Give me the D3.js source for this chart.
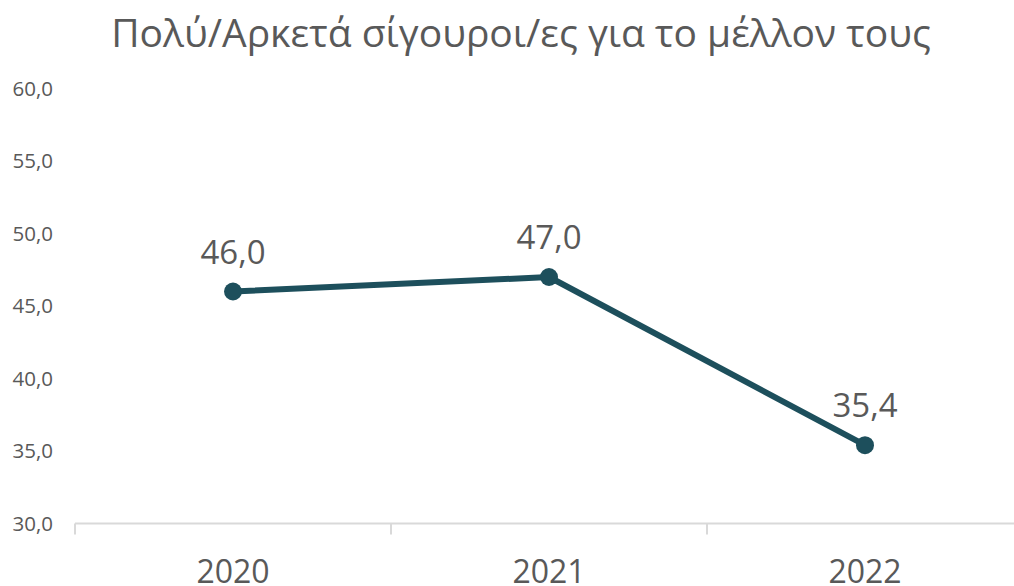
<!DOCTYPE html>
<html>
<head>
<meta charset="utf-8">
<script src="https://cdn.jsdelivr.net/npm/d3@7/dist/d3.min.js"></script>
<style>
    body { margin: 0; background: #fff; }
    svg { display: block; font-family: "Open Sans", sans-serif; }
</style>
</head>
<body>
<svg id="CANVAS"></svg>
<script>
    var TITLE = "Πολύ/Αρκετά σίγουροι/ες για το μέλλον τους";
    var YEARS = ["2020", "2021", "2022"];
    var VALUES = [46.0, 47.0, 35.4];
    var Y_TICKS = [30, 35, 40, 45, 50, 55, 60];

    var W = 1014, H = 586;
    var LINE_COLOR = "#1d4f5c";
    var TEXT_COLOR = "#595959";

    var svg = d3.select("#CANVAS").attr("width", W).attr("height", H);

    var x = d3.scaleBand()
        .domain(YEARS)
        .range([75, 1023]);

    var y = d3.scaleLinear()
        .domain([30, 60])
        .range([523.5, 88.5]);

    var fmt = function (v) { return d3.format(".1f")(v).replace(".", ","); };

    // title
    svg.append("text")
        .attr("x", 521).attr("y", 47)
        .attr("text-anchor", "middle")
        .attr("fill", TEXT_COLOR)
        .style("font-size", "39px")
        .text(TITLE);

    // y labels (no axis line)
    svg.selectAll("text.YLAB")
        .data(Y_TICKS)
        .enter().append("text")
        .attr("class", "YLAB")
        .attr("x", 53)
        .attr("y", function (d) { return y(d); })
        .attr("dy", "0.35em")
        .attr("text-anchor", "end")
        .attr("fill", TEXT_COLOR)
        .style("font-size", "20.5px")
        .text(fmt);

    // x axis
    var xAxis = svg.append("g")
        .attr("transform", "translate(0," + y(30) + ")");
    xAxis.append("line")
        .attr("x1", x.range()[0]).attr("x2", x.range()[1])
        .attr("stroke", "#d9d9d9").attr("stroke-width", 2);
    xAxis.selectAll("line.TICK")
        .data(YEARS)
        .enter().append("line")
        .attr("class", "TICK")
        .attr("x1", function (d) { return x(d); })
        .attr("x2", function (d) { return x(d); })
        .attr("y1", 0).attr("y2", 11)
        .attr("stroke", "#d9d9d9").attr("stroke-width", 2);
    xAxis.selectAll("text")
        .data(YEARS)
        .enter().append("text")
        .attr("x", function (d) { return x(d) + x.bandwidth() / 2; })
        .attr("y", 59)
        .attr("text-anchor", "middle")
        .attr("fill", TEXT_COLOR)
        .style("font-size", "32px")
        .text(function (d) { return d; });

    var cx = function (d, i) { return x(YEARS[i]) + x.bandwidth() / 2; };

    // line
    var line = d3.line()
        .x(cx)
        .y(function (d) { return y(d); });

    svg.append("path")
        .datum(VALUES)
        .attr("d", line)
        .attr("fill", "none")
        .attr("stroke", LINE_COLOR)
        .attr("stroke-width", 6)
        .attr("stroke-linejoin", "round");

    svg.selectAll("circle.POINT")
        .data(VALUES)
        .enter().append("circle")
        .attr("class", "POINT")
        .attr("cx", cx)
        .attr("cy", function (d) { return y(d); })
        .attr("r", 9)
        .attr("fill", LINE_COLOR);

    svg.selectAll("text.LABEL")
        .data(VALUES)
        .enter().append("text")
        .attr("class", "LABEL")
        .attr("x", cx)
        .attr("y", function (d) { return y(d) - 28; })
        .attr("text-anchor", "middle")
        .attr("fill", TEXT_COLOR)
        .style("font-size", "33px")
        .text(fmt);
</script>
</body>
</html>
